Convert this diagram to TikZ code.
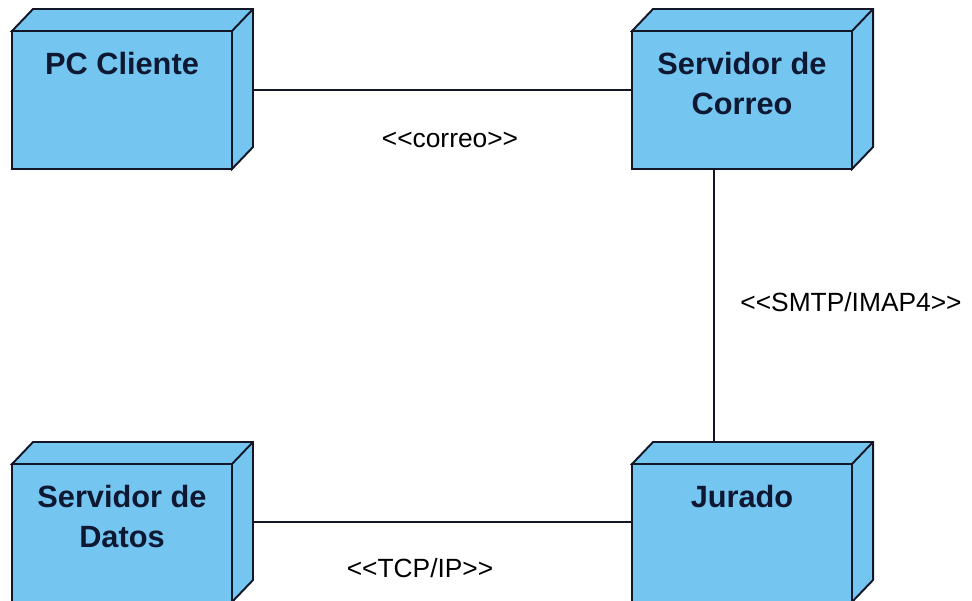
\documentclass[tikz,border=0pt]{standalone}
\usepackage{fontspec}
\setmainfont{Liberation Sans}[Ligatures=TeXOff]
\usetikzlibrary{positioning}

\definecolor{nodoazul}{RGB}{116,197,239}
\definecolor{bordeazul}{RGB}{18,22,38}
\definecolor{textoazul}{RGB}{14,24,50}

\begin{document}
\begin{tikzpicture}[x=0.02cm, y=-0.02cm,
    caja/.style={draw=bordeazul, fill=nodoazul, line width=1.1pt, line join=miter},
    nodo/.style={caja, rectangle, minimum width=4.4cm, minimum height=2.76cm,
                 inner sep=0pt, outer sep=0pt},
    titulo/.style={font=\fontsize{17.5}{22.7}\selectfont\bfseries, text=textoazul,
                   align=center, inner sep=0pt},
    etiqueta/.style={font=\fontsize{15}{18}\selectfont, inner sep=0pt},
    enlace/.style={draw=bordeazul, line width=1pt}]
  \useasboundingbox (0,0) rectangle (972,600);

  % nodos de despliegue (cara frontal)
  \node[nodo] (pc)     at (122,100) {};
  \node[nodo] (correo) at (742,100) {};
  \node[nodo] (datos)  at (122,533) {};
  \node[nodo] (jurado) at (742,533) {};

  % cara superior y lateral de cada caja
  \foreach \n in {pc,correo,datos,jurado} {
    \draw[caja] (\n.north west) -- ++(21,-22) -- ++(220,0) -- ++(0,138)
      -- (\n.south east) -- (\n.north east) -- cycle;
    \draw[caja] (\n.north east) -- ++(21,-22);
  }

  \node[titulo, below=0.42cm of pc.north]     (tpc)     {PC Cliente};
  \node[titulo, below=0.42cm of correo.north] (tcorreo) {Servidor de\\Correo};
  \node[titulo, below=0.42cm of datos.north]  (tdatos)  {Servidor de\\Datos};
  \node[titulo, below=0.42cm of jurado.north] (tjurado) {Jurado};

  % conexiones
  \draw[enlace] ([shift={(21,-10)}]pc.east) -- ([shift={(0,-10)}]correo.west);
  \draw[enlace] ([shift={(-28,0)}]correo.south) -- ([shift={(-28,-22)}]jurado.north);
  \draw[enlace] ([shift={(21,-11)}]datos.east) -- ([shift={(0,-11)}]jurado.west);

  \node[etiqueta] (lcorreo) at (450,140) {<<correo>>};
  \node[etiqueta] (lsmtp)   at (851,302) {<<SMTP/IMAP4>>};
  \node[etiqueta] (ltcp)    at (420,568) {<<TCP/IP>>};
\end{tikzpicture}
\end{document}
